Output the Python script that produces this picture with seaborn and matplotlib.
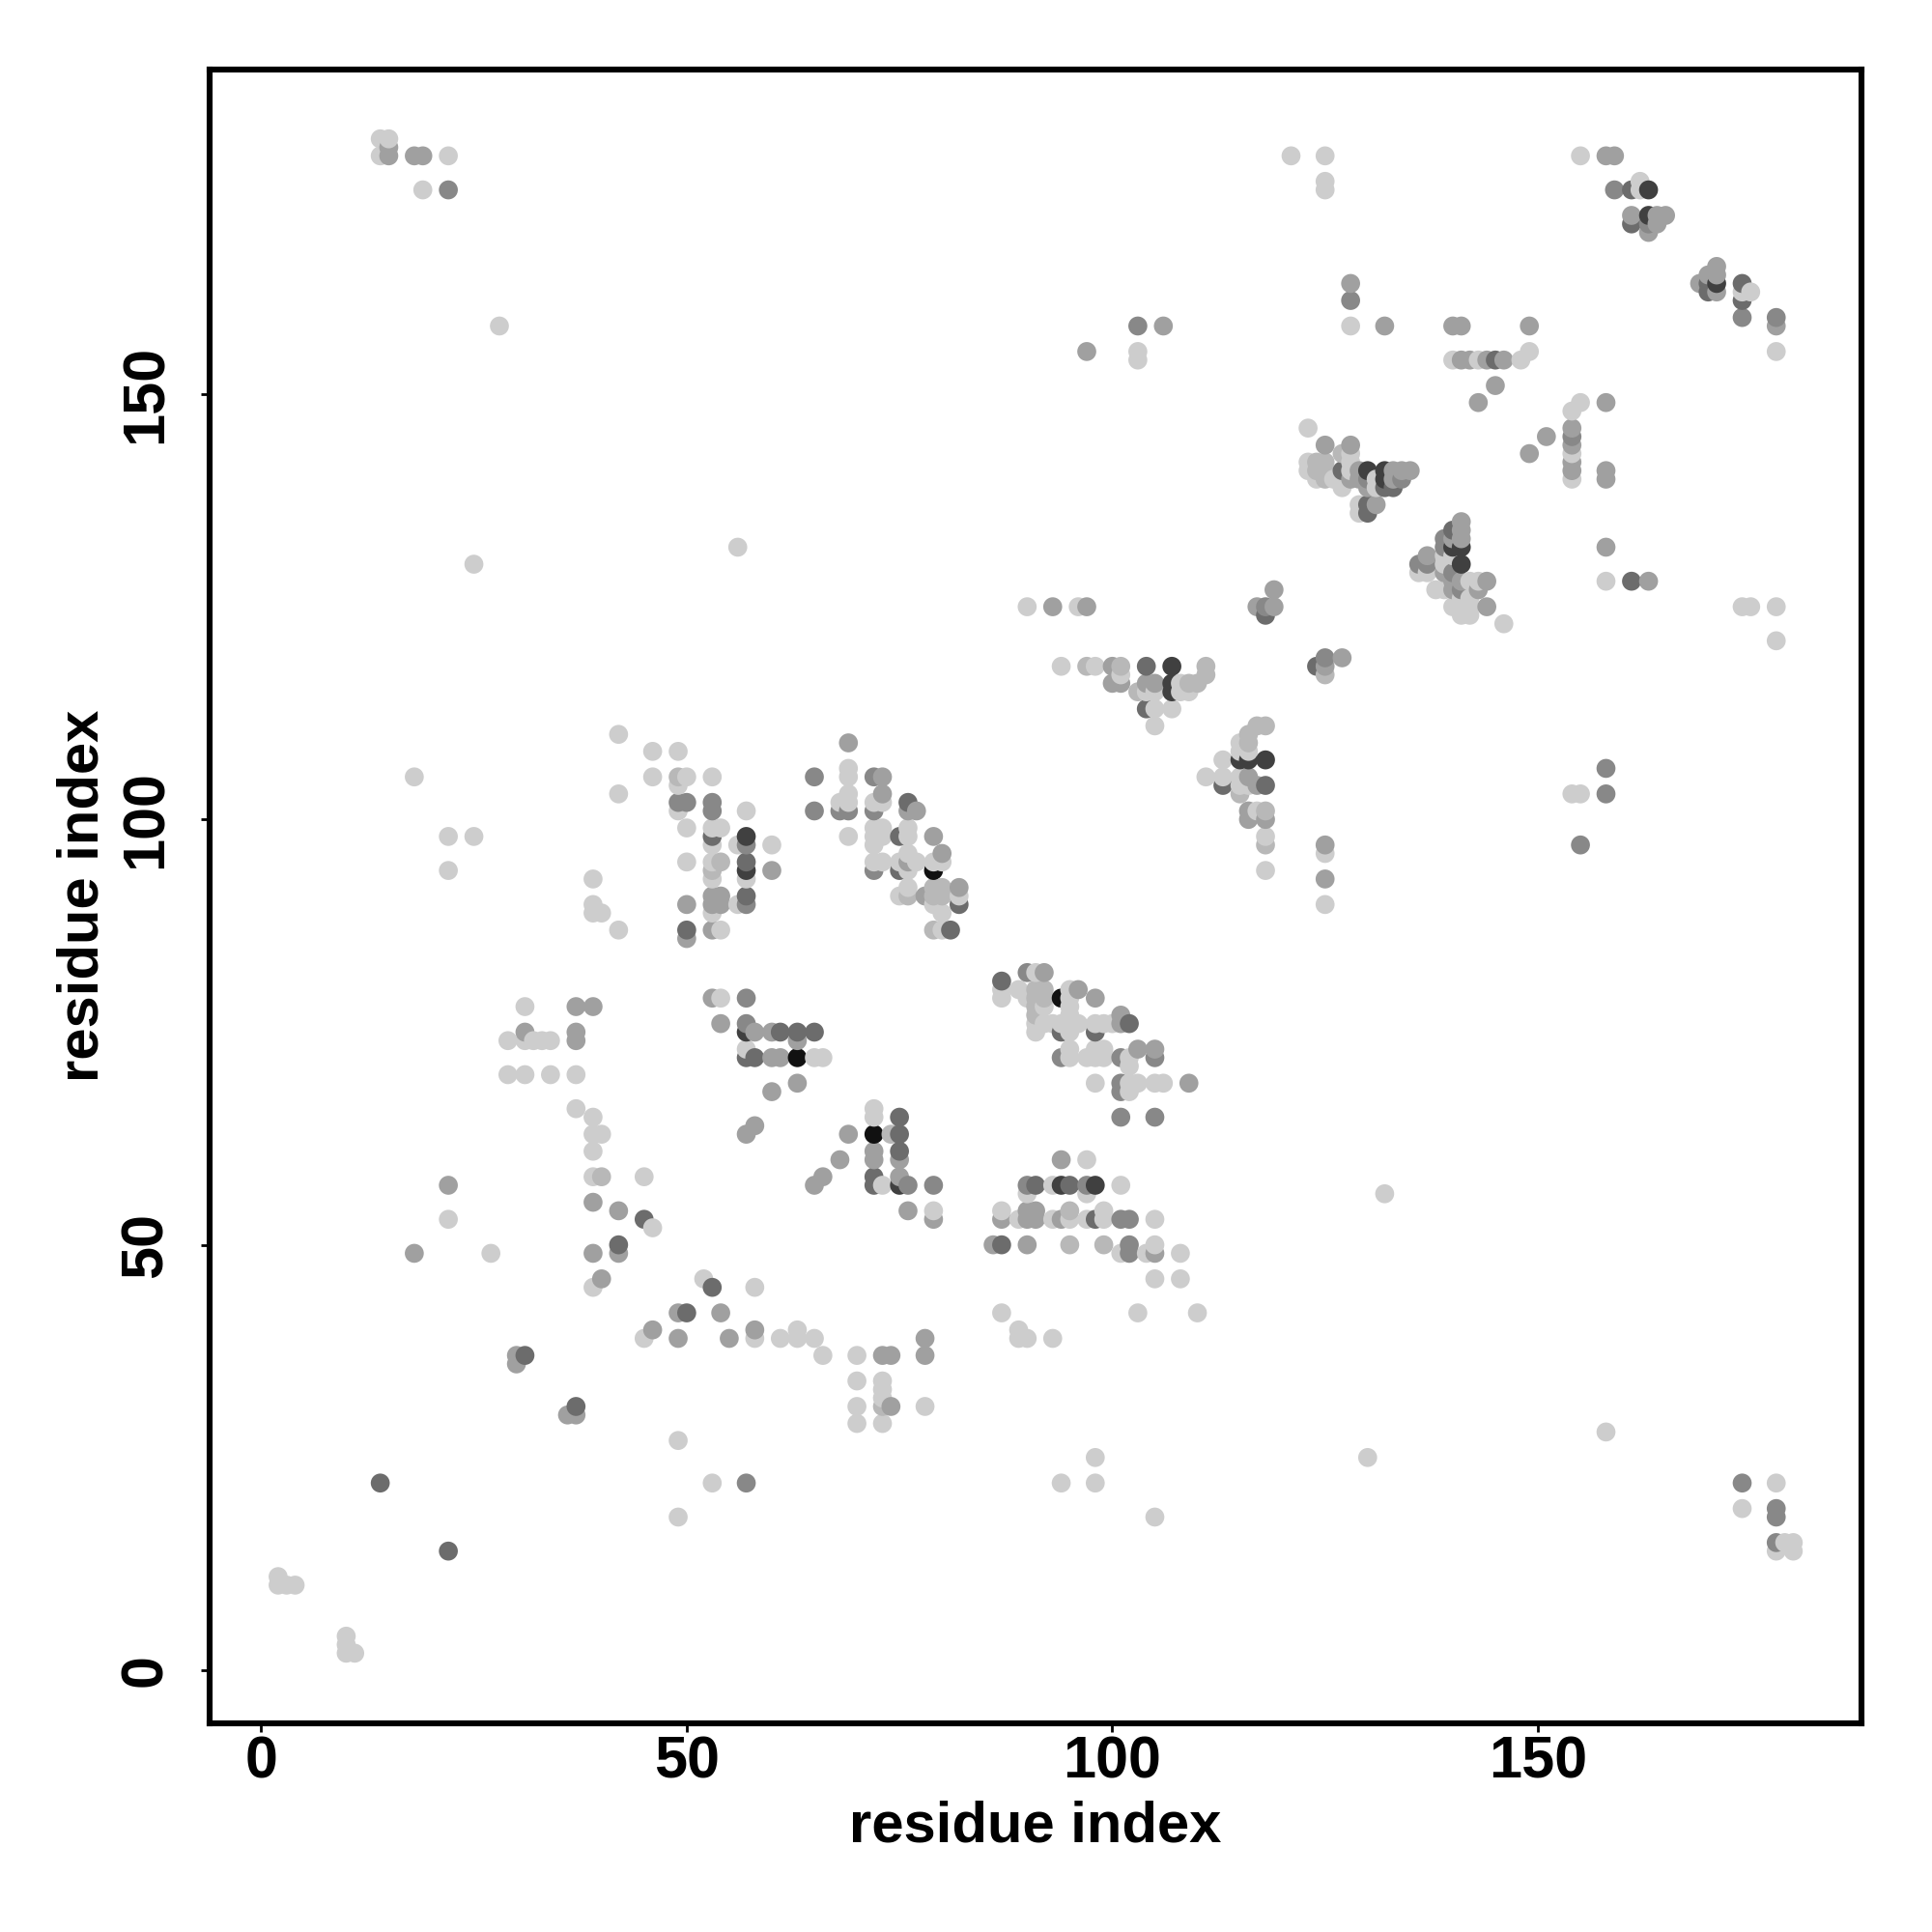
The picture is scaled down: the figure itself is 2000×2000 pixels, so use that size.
import matplotlib
matplotlib.use("Agg")
import matplotlib.pyplot as plt
import pandas as pd
import seaborn as sns

sns.set_theme(style="white")
plt.rcParams['font.family'] = ['Liberation Sans', 'DejaVu Sans']

x_ticks = [0, 50, 100, 150]
y_ticks = [0, 50, 100, 150]
axis_label = "residue index"

# contact strength classes -> grey
shades = {'L': '#cdcdcd', 'G': '#b8b8b8', 'M': '#a0a0a0', 'K': '#888888', 'D': '#6c6c6c', 'E': '#404040', 'B': '#111111'}

contacts_sparse = [
 (2,11,'L'),(2,10,'L'),(3,10,'L'),(4,10,'L'),(10,4,'L'),(10,3,'L'),(10,2,'L'),(11,2,'L'),
 (14,22,'D'),(22,14,'D'),(49,18,'L'),(49,27,'L'),(53,22,'L'),(57,22,'K'),(94,22,'L'),(98,25,'L'),(98,22,'L'),
 (105,18,'L'),(130,25,'L'),(158,28,'L'),(174,22,'K'),(174,19,'L'),(178,22,'L'),(178,19,'K'),(178,18,'K'),
 (178,15,'K'),(178,14,'L'),(179,15,'L'),(180,15,'L'),(180,14,'L'),(22,57,'M'),(22,53,'L'),(18,49,'M'),(27,49,'L'),
 (132,56,'L'),(87,42,'L'),(89,40,'L'),(89,39,'L'),(90,39,'L'),(93,39,'L'),(103,42,'L'),(110,42,'L'),
 (14,180,'L'),(15,180,'L'),(14,178,'L'),(15,179,'M'),(15,178,'M'),(18,178,'M'),(19,178,'M'),(22,178,'L'),(19,174,'L'),(22,174,'K'),
 (28,158,'L'),(18,105,'L'),(22,98,'L'),(25,98,'L'),(22,94,'L'),(25,130,'L'),(56,132,'L'),
 (90,125,'L'),(93,125,'M'),(96,125,'L'),(97,125,'M'),(121,178,'L'),(125,178,'L'),(125,175,'L'),(125,174,'L'),
 (128,163,'M'),(128,161,'K'),(128,158,'L'),(132,158,'M'),(97,155,'M'),(103,158,'K'),(106,158,'M'),(103,155,'L'),(103,154,'L'),
 (117,125,'M'),(118,125,'K'),(118,124,'D'),(119,127,'M'),(119,125,'M'),
 (154,103,'L'),(155,103,'L'),(155,97,'K'),(158,106,'K'),(158,103,'K'),
 (174,125,'L'),(175,125,'L'),(178,125,'L'),(178,121,'L'),
]
contacts_mid_left = [
 (42,110,'L'),(46,108,'L'),(49,108,'L'),(46,105,'L'),(49,105,'G'),(50,105,'L'),(49,104,'L'),(53,105,'L'),(42,103,'L'),
 (49,102,'K'),(50,102,'K'),(49,101,'L'),(53,102,'K'),(53,101,'K'),(57,101,'L'),(50,99,'L'),(53,99,'L'),(54,99,'L'),
 (53,98,'D'),(53,97,'L'),(57,98,'E'),(56,97,'L'),(57,97,'K'),(60,97,'L'),(50,95,'L'),(53,95,'L'),(54,95,'G'),(53,94,'G'),(53,93,'L'),
 (57,95,'D'),(57,94,'E'),(57,93,'L'),(60,94,'M'),(39,93,'L'),(39,90,'L'),(39,89,'L'),(40,89,'L'),(42,87,'L'),
 (50,90,'M'),(53,91,'M'),(53,90,'M'),(54,91,'M'),(54,90,'M'),(53,89,'L'),(56,90,'L'),(57,91,'D'),(57,90,'K'),
 (50,87,'D'),(50,86,'M'),(53,87,'M'),(54,87,'L'),
 (69,109,'M'),(65,105,'K'),(69,106,'L'),(69,105,'L'),(72,105,'K'),(73,105,'M'),(65,101,'K'),(68,102,'L'),(68,101,'K'),
 (69,103,'L'),(69,102,'L'),(69,101,'K'),(72,102,'L'),(73,102,'L'),(73,103,'M'),(72,101,'K'),(76,102,'D'),(76,101,'M'),(77,101,'M'),
 (69,98,'L'),(72,99,'L'),(73,99,'L'),(72,98,'L'),(73,98,'L'),(72,97,'L'),(75,98,'D'),(76,99,'L'),(76,98,'L'),(79,98,'M'),
 (72,95,'L'),(73,95,'L'),(72,94,'K'),(75,95,'L'),(76,96,'L'),(76,95,'M'),(77,95,'L'),(75,94,'D'),(76,94,'L'),
 (79,95,'L'),(80,96,'M'),(80,95,'L'),(79,94,'B'),(75,91,'L'),(76,92,'L'),(76,91,'G'),(78,91,'M'),(79,92,'G'),(80,92,'G'),(79,91,'G'),(80,91,'G'),
 (79,90,'L'),(80,89,'L'),(82,92,'M'),(82,91,'L'),(82,90,'D'),(79,87,'G'),(80,87,'L'),(81,87,'D'),
]
contacts_low_left = [
 (31,78,'L'),(37,78,'M'),(39,78,'M'),(31,75,'M'),(29,74,'L'),(31,74,'L'),(32,74,'L'),(33,74,'L'),(34,74,'L'),(37,75,'M'),(37,74,'M'),
 (29,70,'L'),(31,70,'L'),(34,70,'L'),(37,70,'L'),(37,66,'L'),(39,65,'L'),(39,63,'L'),(40,63,'L'),(39,61,'L'),(39,58,'L'),(40,58,'G'),(45,58,'L'),
 (39,55,'M'),(42,54,'M'),(45,53,'D'),(46,52,'L'),(42,50,'D'),(42,49,'M'),(39,49,'M'),
 (53,79,'M'),(54,79,'L'),(57,79,'K'),(54,76,'M'),(57,76,'K'),(57,75,'E'),(58,75,'M'),(60,75,'M'),(61,75,'D'),(63,75,'D'),(63,74,'M'),(65,75,'D'),
 (57,73,'L'),(57,72,'D'),(58,72,'D'),(60,72,'M'),(61,72,'M'),(63,72,'B'),(65,72,'L'),(66,72,'L'),(60,68,'M'),(63,69,'M'),(58,64,'M'),(57,63,'M'),
 (65,57,'M'),(66,58,'M'),(68,60,'M'),(69,63,'M'),
 (72,66,'L'),(72,65,'L'),(75,65,'D'),(72,63,'B'),(74,63,'G'),(75,63,'D'),(72,61,'M'),(72,60,'M'),(75,61,'D'),(75,60,'M'),
 (72,58,'D'),(72,57,'D'),(73,57,'L'),(75,58,'M'),(75,57,'E'),(76,57,'K'),(79,57,'K'),(76,54,'M'),(79,54,'L'),(79,53,'M'),
 (40,46,'M'),(39,45,'L'),(52,46,'L'),(53,45,'D'),(58,45,'L'),(49,42,'M'),(50,42,'D'),(54,42,'M'),(45,39,'L'),(46,40,'M'),(49,39,'M'),(55,39,'M'),
 (58,40,'M'),(58,39,'L'),(61,39,'L'),(63,40,'L'),(63,39,'L'),(65,39,'L'),(66,37,'L'),(70,37,'L'),(73,37,'M'),(74,37,'M'),(78,39,'M'),(78,37,'M'),
 (70,34,'L'),(73,34,'L'),(73,33,'L'),(73,32,'L'),(73,31,'G'),(74,31,'M'),(78,31,'L'),(70,31,'L'),(70,29,'L'),(73,29,'L'),
 (30,37,'M'),(30,36,'M'),(31,37,'D'),(36,30,'M'),(37,30,'M'),(37,31,'D'),
]
contacts_mid_right = [
 (90,82,'K'),(91,82,'L'),(92,82,'M'),(87,81,'D'),(87,80,'L'),(87,79,'L'),(89,80,'L'),(90,79,'L'),(91,80,'G'),(92,80,'G'),(91,79,'G'),(92,79,'G'),
 (91,78,'G'),(91,77,'G'),(92,78,'L'),(94,79,'B'),(95,80,'L'),(95,79,'L'),(95,78,'L'),(96,80,'M'),(98,79,'M'),
 (91,76,'L'),(91,75,'L'),(92,76,'L'),(93,76,'L'),(94,75,'D'),(94,76,'L'),(95,77,'L'),(95,76,'L'),(96,76,'L'),(95,75,'L'),(98,76,'L'),(99,76,'L'),(98,75,'D'),
 (100,76,'L'),(101,77,'M'),(101,76,'M'),(102,76,'D'),(94,72,'K'),(95,73,'L'),(95,72,'L'),(97,72,'L'),(98,73,'L'),(98,72,'L'),(99,73,'L'),(99,72,'L'),
 (101,72,'K'),(102,72,'L'),(102,71,'L'),(103,73,'M'),(105,73,'M'),(105,72,'K'),(98,69,'L'),(101,69,'K'),(101,68,'K'),(102,69,'L'),(102,68,'L'),
 (103,69,'L'),(105,69,'L'),(106,69,'L'),(109,69,'M'),(101,65,'K'),(105,65,'K'),(94,60,'M'),(97,60,'L'),(90,57,'K'),(91,57,'D'),(90,56,'L'),(93,57,'L'),
 (94,57,'E'),(95,57,'D'),(97,57,'K'),(98,57,'E'),(97,56,'L'),(101,57,'L'),(87,54,'L'),(87,53,'M'),(89,53,'L'),(90,54,'M'),(91,54,'M'),(90,53,'M'),(91,53,'M'),
 (93,53,'L'),(94,53,'M'),(95,54,'G'),(95,53,'L'),(97,53,'L'),(98,53,'D'),(99,54,'L'),(99,53,'L'),(101,53,'K'),(102,53,'K'),(105,53,'L'),
 (86,50,'M'),(87,50,'D'),(90,50,'M'),(95,50,'G'),(99,50,'G'),(101,49,'L'),(102,50,'K'),(102,49,'K'),(104,49,'L'),(105,50,'L'),(105,49,'M'),(108,49,'L'),(105,46,'L'),(108,46,'L'),
]
contacts_upper_mid = [
 (94,118,'L'),(97,118,'G'),(98,118,'L'),(100,118,'M'),(101,118,'G'),(100,116,'M'),(101,117,'L'),(101,116,'M'),(104,118,'D'),(104,116,'M'),(105,116,'M'),
 (103,115,'G'),(104,115,'L'),(105,115,'L'),(107,118,'E'),(107,116,'E'),(107,115,'E'),(108,116,'L'),(108,115,'L'),(109,115,'L'),(109,116,'G'),(110,116,'G'),
 (111,118,'G'),(111,117,'G'),(104,113,'D'),(105,113,'L'),(107,113,'L'),(105,111,'L'),
 (111,105,'L'),(113,107,'L'),(113,105,'L'),(113,104,'D'),(115,109,'L'),(115,108,'L'),(116,110,'G'),(116,109,'G'),(117,111,'G'),(118,111,'G'),(116,108,'L'),
 (115,107,'E'),(116,107,'E'),(118,107,'E'),(115,105,'L'),(116,105,'M'),(115,104,'L'),(115,103,'G'),(116,104,'L'),(117,104,'M'),(118,104,'D'),
 (116,101,'M'),(116,100,'M'),(117,101,'L'),(118,101,'G'),(118,100,'M'),(118,98,'L'),(118,97,'G'),(118,94,'L'),
 (124,118,'D'),(125,119,'K'),(125,118,'M'),(125,117,'G'),(127,119,'M'),(125,97,'M'),(125,96,'L'),(125,93,'M'),(125,90,'L'),
]
contacts_upper_right = [
 (123,146,'L'),(125,144,'M'),(128,144,'M'),(127,143,'G'),(128,143,'L'),(123,142,'L'),(124,142,'G'),(125,142,'G'),(123,141,'L'),(124,141,'G'),(125,141,'G'),
 (124,140,'L'),(125,140,'G'),(126,140,'L'),(127,139,'L'),(127,141,'D'),(128,142,'L'),(128,141,'L'),(128,140,'M'),(129,141,'M'),(129,140,'M'),(130,139,'M'),
 (130,141,'E'),(130,140,'K'),(132,141,'E'),(132,140,'E'),(131,140,'L'),(131,139,'L'),(132,139,'D'),(133,141,'M'),(134,141,'M'),(135,141,'M'),(133,140,'M'),
 (133,139,'D'),(134,140,'K'),(129,137,'L'),(129,136,'L'),(130,137,'D'),(130,136,'D'),(131,137,'M'),
 (141,135,'M'),(141,134,'M'),(141,133,'M'),(140,134,'D'),(140,133,'M'),(139,133,'K'),(139,132,'K'),(140,132,'E'),(141,132,'E'),(137,131,'M'),(136,130,'K'),(137,130,'K'),
 (136,129,'L'),(137,129,'L'),(139,131,'L'),(140,131,'L'),(141,130,'E'),(139,130,'L'),(139,129,'M'),(140,129,'K'),(140,128,'M'),(141,128,'M'),(140,127,'M'),(141,127,'K'),
 (138,127,'L'),(139,127,'L'),(143,128,'L'),(144,128,'M'),(143,127,'M'),(142,128,'L'),(140,125,'L'),(141,125,'L'),(142,125,'L'),(141,126,'L'),(142,126,'L'),(144,125,'M'),
 (141,124,'L'),(142,124,'L'),(146,123,'L'),
 (140,154,'L'),(141,154,'M'),(142,154,'M'),(143,154,'L'),(144,154,'M'),(145,154,'D'),(146,154,'M'),(148,154,'L'),(149,155,'L'),(145,151,'M'),(143,149,'M'),
 (155,149,'L'),(154,148,'L'),(158,149,'M'),(154,146,'M'),(154,145,'K'),(154,144,'M'),(154,143,'L'),(154,142,'M'),(154,141,'M'),(154,140,'L'),(151,145,'M'),(149,143,'M'),
 (158,141,'M'),(158,140,'M'),(158,132,'M'),(158,128,'L'),(161,128,'D'),(163,128,'M'),(140,158,'M'),(141,158,'M'),(149,158,'M'),
 (155,178,'L'),(158,178,'M'),(159,178,'M'),(159,174,'K'),(161,174,'D'),(162,175,'L'),(162,174,'L'),(163,174,'E'),(161,171,'M'),(161,170,'D'),(163,171,'E'),(163,170,'K'),(163,169,'M'),
 (164,171,'M'),(164,170,'M'),(165,171,'M'),(169,163,'M'),(170,164,'M'),(170,163,'D'),(170,162,'D'),(171,165,'M'),(171,164,'M'),(171,163,'E'),(171,162,'M'),
 (174,163,'D'),(174,162,'L'),(174,161,'D'),(175,162,'L'),(174,159,'K'),(178,159,'K'),(178,158,'M'),(178,155,'L'),
]

rows = (contacts_sparse + contacts_mid_left + contacts_low_left + contacts_mid_right
        + contacts_upper_mid + contacts_upper_right)
df = pd.DataFrame(rows, columns=['x', 'y', 'shade']).sort_values(['x', 'y'], kind='stable')

fig = plt.figure(figsize=(10, 10), dpi=200)
ax = fig.add_axes([216.7/2000, 1-1783.5/2000, (1927.3-216.7)/2000, (1783.5-71.5)/2000])
sns.scatterplot(data=df, x='x', y='y', hue='shade', palette=shades, s=50, linewidth=0,
                legend=False, ax=ax)
ax.set_xlim(-6.08, 188.05)
ax.set_ylim(-6.19, 188.2)
ax.set_xticks(x_ticks)
ax.set_yticks(y_ticks)
ax.set_xticklabels([str(t) for t in x_ticks], fontsize=22, fontweight='bold', color='black')
ax.set_yticklabels([str(t) for t in y_ticks], fontsize=22, fontweight='bold', color='black',
                   rotation=90, va='center')
ax.tick_params(axis='both', length=3.3, width=1.0, color='black', direction='out', bottom=True, left=True)
ax.tick_params(axis='x', pad=1.5)
ax.tick_params(axis='y', pad=9.8)
ax.set_xlabel(axis_label, fontsize=21.5, fontweight='bold', color='black', labelpad=3.5)
ax.set_ylabel(axis_label, fontsize=21.5, fontweight='bold', color='black', labelpad=3.7)
ax.grid(False)
for s in ax.spines.values():
    s.set_visible(True)
    s.set_linewidth(2.2)
    s.set_color('black')
fig.savefig('out.png', dpi=200, facecolor='white')
